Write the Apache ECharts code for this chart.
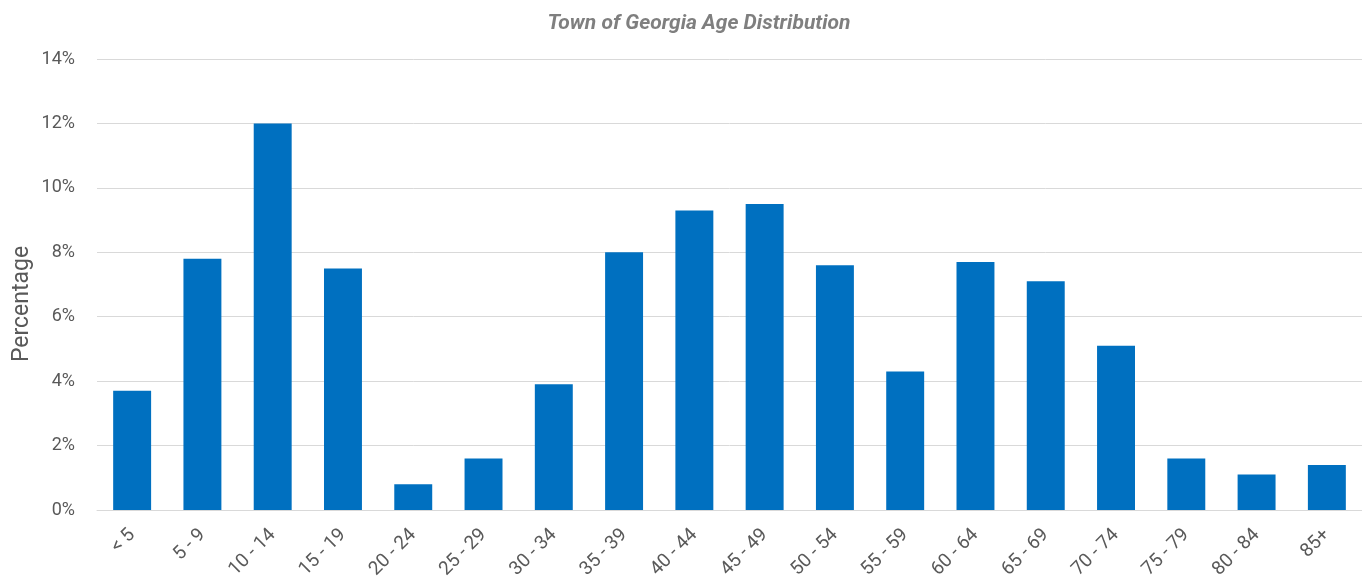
<!DOCTYPE html>
<html><head><meta charset="utf-8">
<script src="https://cdn.jsdelivr.net/npm/echarts@6/dist/echarts.min.js"></script>
<style>html,body{margin:0;padding:0;background:#fff}#c{width:1362px;height:584px}</style>
</head><body><div id="c"></div>
<script>
const categories = ['< 5','5 - 9','10 - 14','15 - 19','20 - 24','25 - 29','30 - 34','35 - 39','40 - 44','45 - 49','50 - 54','55 - 59','60 - 64','65 - 69','70 - 74','75 - 79','80 - 84','85+'];
const percentages = [3.7,7.8,12.0,7.5,0.8,1.6,3.9,8.0,9.3,9.5,7.6,4.3,7.7,7.1,5.1,1.6,1.1,1.4];
const yTicks = [0,2,4,6,8,10,12,14];
const chart = echarts.init(document.getElementById('c'));
chart.setOption({
  animation:false,
  title:{text:'Town of Georgia Age Distribution',left:694,top:8,textAlign:'center',
    textStyle:{fontFamily:'Roboto',fontStyle:'italic',fontWeight:'bold',fontSize:21,color:'#7f7f7f'}},
  graphic:[{type:'text',x:22,y:304,rotation:Math.PI/2,
    style:{text:'Percentage',fontFamily:'Roboto',fontSize:23,fill:'#595959',align:'center',verticalAlign:'middle'}}],
  grid:{left:97,right:-4,top:59,bottom:74},
  xAxis:{type:'category',data:categories,
    axisLine:{lineStyle:{color:'#d9d9d9'}},axisTick:{show:false},
    axisLabel:{rotate:45,fontFamily:'Roboto',fontSize:19,color:'#595959',margin:22}},
  yAxis:{type:'value',min:yTicks[0],max:yTicks[yTicks.length-1],interval:2,
    axisLabel:{formatter:'{value}%',fontFamily:'Roboto',fontSize:18,color:'#595959',margin:22},
    splitLine:{lineStyle:{color:'#d9d9d9'}},axisLine:{show:false},axisTick:{show:false}},
  series:[{type:'bar',data:percentages,barWidth:'54%',itemStyle:{color:'#0070C0'}}]
});
</script></body></html>
